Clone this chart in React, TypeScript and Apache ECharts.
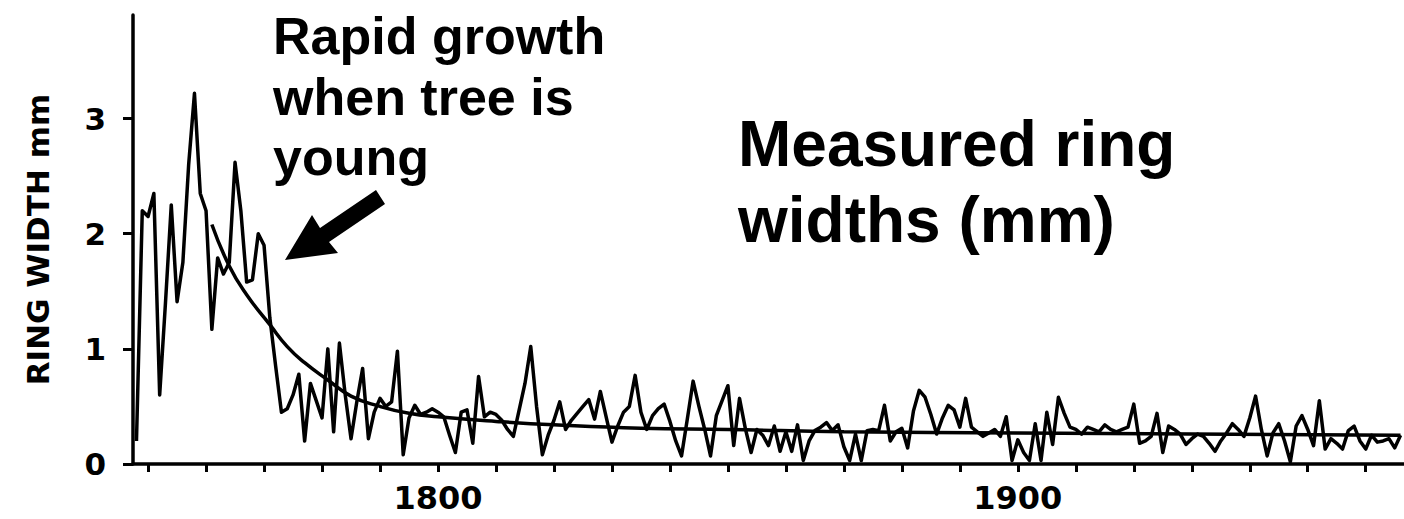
import React, { useEffect, useRef } from "react";
import * as echarts from "echarts";

// Annual ring widths (mm), one value per year starting at firstYear
const firstYear = 1748;
const ringWidths: number[] = [
  0.2, 2.2,
  2.15, 2.35, 0.6, 1.4, 2.25, 1.41, 1.75, 2.6, 3.22, 2.35, // 1750s
  2.2, 1.17, 1.79, 1.65, 1.75, 2.62, 2.2, 1.58, 1.6, 2.0, // 1760s
  1.9, 1.27, 0.85, 0.45, 0.48, 0.6, 0.78, 0.2, 0.7, 0.55, // 1770s
  0.4, 1.0, 0.28, 1.05, 0.6, 0.22, 0.54, 0.83, 0.22, 0.45, // 1780s
  0.57, 0.5, 0.54, 0.98, 0.08, 0.4, 0.51, 0.43, 0.45, 0.48, // 1790s
  0.45, 0.41, 0.25, 0.1, 0.45, 0.47, 0.18, 0.76, 0.41, 0.45, // 1800s
  0.43, 0.38, 0.3, 0.24, 0.47, 0.7, 1.02, 0.5, 0.08, 0.25, // 1810s
  0.38, 0.54, 0.3, 0.38, 0.44, 0.5, 0.56, 0.39, 0.63, 0.41, // 1820s
  0.19, 0.33, 0.45, 0.5, 0.77, 0.45, 0.3, 0.42, 0.48, 0.52, // 1830s
  0.37, 0.2, 0.07, 0.39, 0.72, 0.5, 0.3, 0.07, 0.42, 0.55, // 1840s
  0.68, 0.16, 0.57, 0.31, 0.1, 0.3, 0.25, 0.16, 0.33, 0.11, // 1850s
  0.28, 0.11, 0.34, 0.03, 0.2, 0.29, 0.32, 0.36, 0.29, 0.34, // 1860s
  0.15, 0.03, 0.26, 0.03, 0.29, 0.3, 0.29, 0.51, 0.2, 0.28, // 1870s
  0.31, 0.14, 0.46, 0.64, 0.58, 0.43, 0.26, 0.4, 0.51, 0.47, // 1880s
  0.32, 0.57, 0.32, 0.28, 0.24, 0.27, 0.3, 0.24, 0.41, 0.03, // 1890s
  0.21, 0.1, 0.03, 0.35, 0.03, 0.45, 0.17, 0.58, 0.44, 0.32, // 1900s
  0.3, 0.26, 0.32, 0.3, 0.28, 0.34, 0.3, 0.28, 0.3, 0.32, // 1910s
  0.52, 0.18, 0.2, 0.24, 0.44, 0.1, 0.33, 0.3, 0.26, 0.17, // 1920s
  0.22, 0.26, 0.24, 0.18, 0.11, 0.2, 0.27, 0.35, 0.3, 0.24, // 1930s
  0.4, 0.59, 0.3, 0.07, 0.27, 0.35, 0.2, 0.02, 0.33, 0.42, // 1940s
  0.3, 0.16, 0.55, 0.13, 0.22, 0.18, 0.13, 0.29, 0.33, 0.2, // 1950s
  0.13, 0.25, 0.19, 0.2, 0.22, 0.14, 0.25, // 1960s
];

// Fitted growth curve, read at selected years
const trendYears: number[] = [1761, 1764, 1767, 1771, 1774, 1777, 1781, 1785, 1790, 1795, 1800, 1810, 1820, 1835, 1850, 1870, 1900, 1930, 1966];
const trendValues: number[] = [2.08, 1.72, 1.47, 1.21, 1.02, 0.88, 0.73, 0.59, 0.5, 0.44, 0.41, 0.37, 0.34, 0.31, 0.3, 0.28, 0.27, 0.26, 0.25];

const xTickYears: number[] = [1750, 1760, 1770, 1780, 1790, 1800, 1810, 1820, 1830, 1840, 1850, 1860, 1870, 1880, 1890, 1900, 1910, 1920, 1930, 1940, 1950, 1960];
const xLabelYears: number[] = [1800, 1900];
const yTicks: number[] = [0, 1, 2, 3];

export default function App() {
  const ref = useRef<HTMLDivElement>(null);
  useEffect(() => {
    if (!ref.current) return;
    const chart = echarts.init(ref.current, null, { renderer: "svg" });
    const seriesData = ringWidths.map((w, i) => [firstYear + i, w]);
    const trendData = trendYears.map((y, i) => [y, trendValues[i]]);
    const black = "#000";
    chart.setOption({
      animation: false,
      backgroundColor: "#fff",
      grid: { left: 133, right: 0, top: 15, bottom: 55, containLabel: false },
      xAxis: {
        type: "value",
        min: 1747.4,
        max: 1966.6,
        axisLine: { show: true, lineStyle: { color: black, width: 3.5 } },
        axisTick: { show: true, customValues: xTickYears, length: 8, lineStyle: { color: black, width: 3 } },
        axisLabel: {
          customValues: xLabelYears,
          formatter: (v: number) => String(v),
          color: black,
          fontFamily: "DejaVu Sans",
          fontWeight: "bold",
          fontSize: 32,
          margin: 18,
        },
        splitLine: { show: false },
      },
      yAxis: {
        type: "value",
        min: 0,
        max: 3.9,
        name: "RING WIDTH mm",
        nameLocation: "middle",
        nameGap: 80,
        nameTextStyle: { color: black, fontFamily: "DejaVu Sans", fontWeight: "bold", fontSize: 31 },
        axisLine: { show: true, lineStyle: { color: black, width: 3.5 } },
        axisTick: { show: true, customValues: yTicks, length: 10, lineStyle: { color: black, width: 3 } },
        axisLabel: {
          customValues: yTicks,
          formatter: (v: number) => String(v),
          color: black,
          fontFamily: "DejaVu Sans",
          fontWeight: "bold",
          fontSize: 31,
          margin: 27,
        },
        splitLine: { show: false },
      },
      series: [
        {
          type: "line",
          data: seriesData,
          showSymbol: false,
          lineStyle: { color: black, width: 3.5, join: "round" },
          clip: true,
        },
        {
          type: "line",
          data: trendData,
          smooth: true,
          showSymbol: false,
          lineStyle: { color: black, width: 3.5 },
          clip: true,
        },
      ],
      graphic: [
        { type: "text", left: 273, top: 10, style: { text: "Rapid growth", fill: black, font: "bold 52px 'Liberation Sans', Arial, sans-serif" } },
        { type: "text", left: 273, top: 71, style: { text: "when tree is", fill: black, font: "bold 52px 'Liberation Sans', Arial, sans-serif" } },
        { type: "text", left: 273, top: 131, style: { text: "young", fill: black, font: "bold 52px 'Liberation Sans', Arial, sans-serif" } },
        { type: "text", left: 738, top: 112, style: { text: "Measured ring", fill: black, font: "bold 64px 'Liberation Sans', Arial, sans-serif" } },
        { type: "text", left: 738, top: 188, style: { text: "widths (mm)", fill: black, font: "bold 64px 'Liberation Sans', Arial, sans-serif" } },
        {
          type: "polygon",
          shape: { points: [[285, 260], [312, 215], [320, 228], [376, 190], [385, 204], [329, 242], [338, 253]] },
          style: { fill: black },
        },
      ],
    });
    return () => chart.dispose();
  }, []);
  return (
    <div
      ref={ref}
      style={{ position: "absolute", left: 0, top: 0, width: 1404, height: 519, background: "#fff" }}
    />
  );
}
